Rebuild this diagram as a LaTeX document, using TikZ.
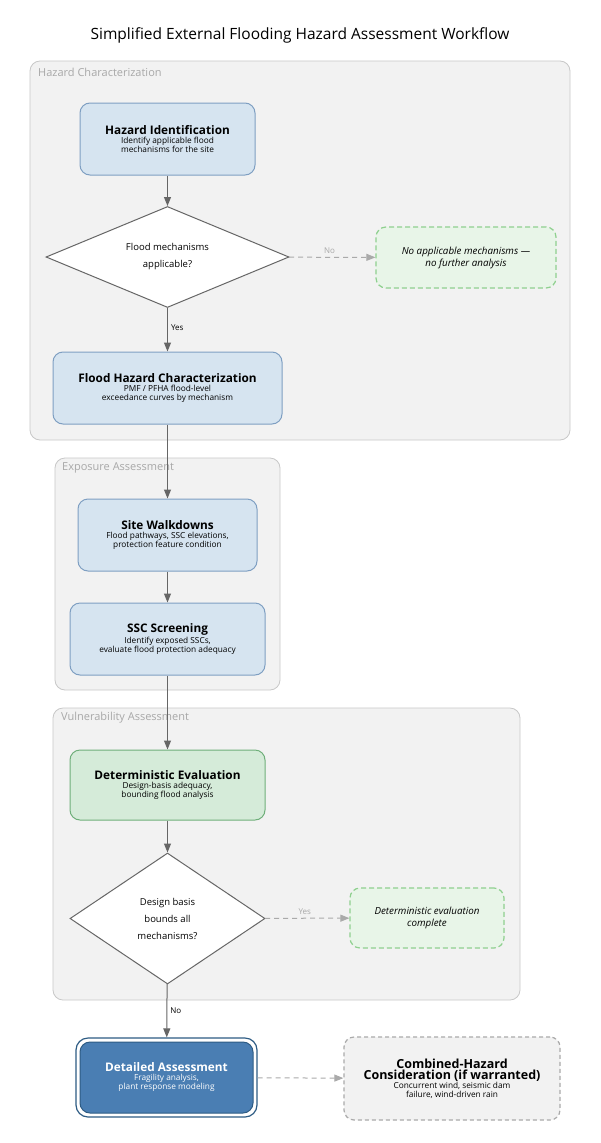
\documentclass[tikz,border=0pt]{standalone}
\usepackage{fontspec}
\setmainfont{Open Sans}
\usetikzlibrary{shapes.geometric,arrows.meta}
\definecolor{clfill}{HTML}{F2F2F2}
\definecolor{cldraw}{HTML}{C8C8C8}
\definecolor{bluefill}{HTML}{D6E4F0}
\definecolor{bluedraw}{HTML}{7F9FC2}
\definecolor{greenfill}{HTML}{D5EBD9}
\definecolor{greendraw}{HTML}{6FAF7A}
\definecolor{palegreen}{HTML}{E8F5E8}
\definecolor{dashgreen}{HTML}{8FD08F}
\definecolor{darkblue}{HTML}{4A7EB3}
\definecolor{navy}{HTML}{2E5C84}
\definecolor{edgegray}{HTML}{666666}
\definecolor{lightedge}{HTML}{AAAAAA}
\definecolor{labelgray}{HTML}{A8A8A8}
\tikzset{
  x=1pt, y=-1pt,
  cluster/.style={draw=cldraw, fill=clfill, rounded corners=10pt, line width=0.8pt},
  cltitle/.style={anchor=west, text=labelgray, font=\fontsize{11}{13}\selectfont, inner sep=0pt},
  process/.style={draw=bluedraw, fill=bluefill, rounded corners=10pt, line width=1pt, align=center, font=\fontsize{8.3}{9}\selectfont, inner sep=0pt},
  evalbox/.style={process, draw=greendraw, fill=greenfill},
  decision/.style={diamond, draw=edgegray, fill=white, line width=1pt, align=center, font=\fontsize{9.5}{17}\selectfont, inner sep=0pt, aspect=2.4},
  endbox/.style={draw=dashgreen, fill=palegreen, dashed, dash pattern=on 5pt off 3pt, rounded corners=10pt, line width=1.2pt, align=center, font=\fontsize{9.8}{12}\selectfont\itshape, inner sep=0pt},
  flow/.style={draw=edgegray, line width=1pt, -{Triangle[length=9pt,width=7pt]}},
  optflow/.style={draw=lightedge, line width=1pt, dashed, dash pattern=on 5pt off 4pt, -{Triangle[length=9pt,width=7pt]}},
  elabel/.style={font=\fontsize{8}{9}\selectfont, inner sep=1pt},
}
\newcommand{\ttl}[1]{{\fontsize{11.8}{13}\selectfont\bfseries #1}\\}
\newcommand{\bigttl}[1]{{\fontsize{12.5}{13.5}\selectfont\bfseries #1}\\}
\begin{document}
\begin{tikzpicture}
\useasboundingbox[fill=white] (0,0) rectangle (600,1143);
\node (title) at (300,35) {\fontsize{15.5}{18}\selectfont Simplified External Flooding Hazard Assessment Workflow};

% clusters
\draw[cluster] (30,61) rectangle (570,440);
\node[cltitle] (c1) at (38,72) {Hazard Characterization};
\draw[cluster] (55,458) rectangle (280,690);
\node[cltitle] (c2) at (62,468) {Exposure Assessment};
\draw[cluster] (53,708) rectangle (520,1000);
\node[cltitle] (c3) at (61,718) {Vulnerability Assessment};

% nodes
\node[process, minimum width=175pt, minimum height=72pt] (hid) at (167.5,139) {\ttl{Hazard Identification}Identify applicable flood\\mechanisms for the site};
\node[decision, minimum width=243pt, minimum height=101pt] (d1) at (167.5,257) {Flood mechanisms\\applicable?};
\node[endbox, minimum width=180pt, minimum height=61pt] (none) at (466,257.5) {No applicable mechanisms ---\\no further analysis};
\node[process, minimum width=229pt, minimum height=72pt] (fhc) at (167.5,388) {\ttl{Flood Hazard Characterization}PMF / PFHA flood-level\\exceedance curves by mechanism};

\node[process, minimum width=179pt, minimum height=72pt] (sw) at (167.5,535) {\ttl{Site Walkdowns}Flood pathways, SSC elevations,\\protection feature condition};
\node[process, minimum width=195pt, minimum height=72pt] (ssc) at (167.5,639) {\ttl{SSC Screening}Identify exposed SSCs,\\evaluate flood protection adequacy};

\node[evalbox, minimum width=195pt, minimum height=70pt] (de) at (167.5,785) {\ttl{Deterministic Evaluation}Design-basis adequacy,\\bounding flood analysis};
\node[decision, minimum width=195pt, minimum height=131pt, aspect=1.5] (d2) at (167.5,918.5) {Design basis\\bounds all\\mechanisms?};
\node[endbox, minimum width=154pt, minimum height=60pt] (dec) at (427,918) {Deterministic evaluation\\complete};

\node[draw=navy, line width=1.2pt, fill=white, rounded corners=12pt, minimum width=181pt, minimum height=79pt] (daout) at (166.5,1077.5) {};
\node[draw=navy, line width=1pt, fill=darkblue, rounded corners=10pt, minimum width=173pt, minimum height=71pt, text=white, align=center, font=\fontsize{8.3}{9}\selectfont, inner sep=0pt] (da) at (166.5,1077.5) {\ttl{Detailed Assessment}Fragility analysis,\\plant response modeling};
\node[draw=lightedge, dashed, dash pattern=on 4pt off 3pt, fill=clfill, line width=1.2pt, rounded corners=10pt, minimum width=216pt, minimum height=83pt, align=center, font=\fontsize{8.3}{9}\selectfont, inner sep=0pt] (chc) at (452,1078.5) {\bigttl{Combined-Hazard}\bigttl{Consideration (if warranted)}Concurrent wind, seismic dam\\failure, wind-driven rain};

% edges
\draw[flow] (hid) -- (d1);
\draw[optflow] (d1) -- node[above, elabel, text=labelgray, pos=0.47, yshift=2pt] {No} (none);
\draw[flow] (d1) -- node[right, elabel, pos=0.45, xshift=2pt] {Yes} (fhc);
\draw[flow] (fhc) -- (sw);
\draw[flow] (sw) -- (ssc);
\draw[flow] (ssc) -- (de);
\draw[flow] (de) -- (d2);
\draw[optflow] (d2) -- node[above, elabel, text=labelgray, pos=0.47, yshift=2pt] {Yes} (dec);
\draw[flow] (d2) -- node[right, elabel, pos=0.5, xshift=2pt] {No} (daout);
\draw[optflow] (daout) -- (chc);
\end{tikzpicture}
\end{document}
